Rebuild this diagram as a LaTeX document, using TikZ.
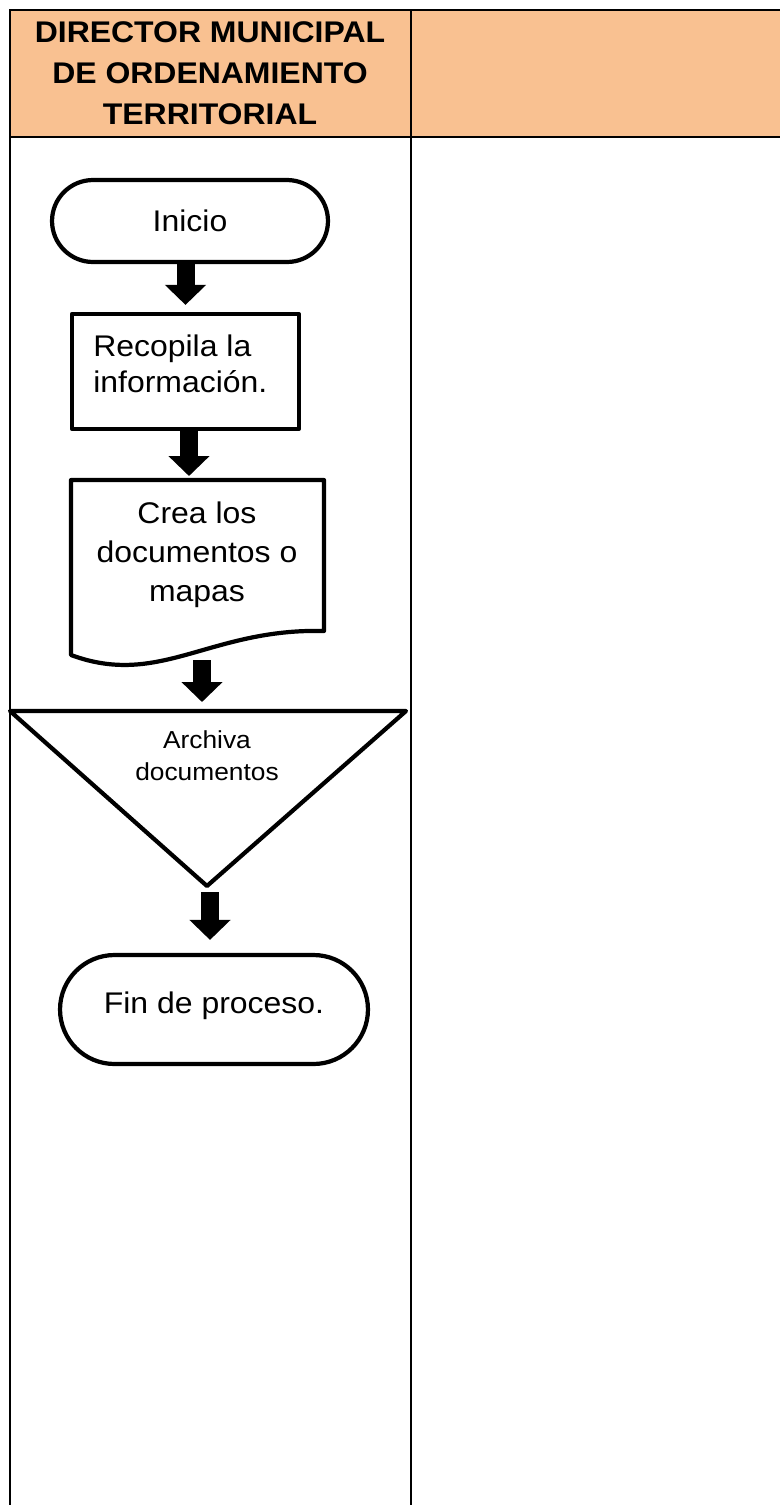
\documentclass[tikz,border=0pt]{standalone}
\usepackage{fontspec}
\setmainfont{Liberation Sans}[FakeStretch=1.07]
\usepackage{tikz}
\usetikzlibrary{arrows.meta,shapes.misc,calc}
\definecolor{headfill}{RGB}{249,193,145}

\begin{document}
\begin{tikzpicture}[x=0.02cm, y=-0.02cm,
    gridline/.style={line width=0.9pt},
    shapeline/.style={draw, line width=2.4pt, line join=round, fill=white},
    terminal/.style={shapeline, rounded rectangle, inner sep=0pt},
    blockarrow/.style={line width=0.36cm, -{Triangle[width=0.8cm, length=0.4cm]}},
    bodytext/.style={font=\fontsize{17}{20.3}\selectfont}]
    \useasboundingbox (0,0) rectangle (780,1505);

    % Table with header row
    \fill[headfill] (10,10) rectangle (780,137);
    \draw[gridline] (780,10) -- (10,10) -- (10,1505);
    \draw[gridline] (10,137) -- (780,137);
    \draw[gridline] (411,10) -- (411,1505);
    \node[font=\bfseries\fontsize{17}{23.3}\selectfont, align=center] (head) at (210,73)
        {DIRECTOR MUNICIPAL\\DE ORDENAMIENTO\\TERRITORIAL};

    % Start
    \node[terminal, minimum width=5.52cm, minimum height=1.64cm, bodytext] (inicio) at (190,221) {Inicio};

    % Process box
    \node[shapeline, minimum width=4.54cm, minimum height=2.3cm] (recopila) at (185.5,371.5) {};
    \node[bodytext, align=left, anchor=west, inner sep=0pt] (recopilatxt)
        at ($(recopila.west)+(23,-8)$) {Recopila la\\información.};

    % Document shape
    \draw[shapeline] (71,480) -- (324,480) -- (324,631)
        .. controls (210,628) and (160,688) .. (71,655) -- cycle;
    \coordinate (doctop) at (197,480);
    \coordinate (docbot) at (202,660);
    \node[font=\fontsize{17}{22.2}\selectfont, align=center] (crea) at (197,555)
        {Crea los\\documentos o\\mapas};

    % Archive triangle
    \draw[shapeline] (10,711) -- (406,711) -- (207,886) -- cycle;
    \coordinate (tritop) at (207,711);
    \coordinate (apex) at (207,886);
    \node[font=\fontsize{14}{18.2}\selectfont, align=center] (archiva) at (207,756)
        {Archiva\\documentos};

    % End
    \node[terminal, minimum width=6.16cm, minimum height=2.18cm, bodytext] (fin) at (214,1009.5) {};
    \node[bodytext] (fintxt) at ($(fin.center)+(0,-4)$) {Fin de proceso.};

    % Block arrows
    \draw[blockarrow, shorten >=0.14cm] (inicio.south -| recopila.north) -- (recopila.north);
    \draw[blockarrow, shorten >=0.08cm] ($(recopila.south)+(3.5,0)$) -- ($(recopila.south |- doctop)+(3.5,0)$);
    \draw[blockarrow, shorten >=0.18cm] (docbot) -- (docbot |- tritop);
    \draw[blockarrow, shorten <=0.12cm, shorten >=0.26cm] ($(apex)+(3,0)$) -- ($(apex |- fin.north)+(3,0)$);
\end{tikzpicture}
\end{document}
